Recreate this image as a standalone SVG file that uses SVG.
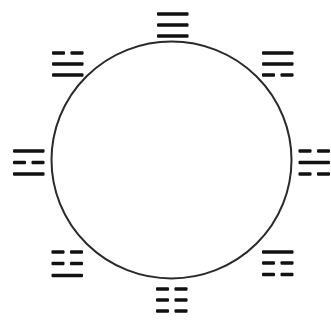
<svg xmlns="http://www.w3.org/2000/svg" xmlns:xlink="http://www.w3.org/1999/xlink" width="331" height="320" viewBox="0 0 331 320">
<style>
.bar{fill:#111}
.ring{fill:none;stroke:#2a2a2a;stroke-width:2}
</style>
<defs>
<g id="yang"><rect class="bar" x="0" y="-1.75" width="31.5" height="3.5" rx="1"/></g>
<g id="yin"><rect class="bar" x="0" y="-1.75" width="13" height="3.5" rx="1"/><rect class="bar" x="18.5" y="-1.75" width="13" height="3.5" rx="1"/></g>
</defs>
<rect width="331" height="320" fill="#fff"/>
<g id="circle"><ellipse class="ring" cx="171.5" cy="160" rx="120" ry="118.5"/></g>
<g id="tri-n" transform="translate(157,0)"><use xlink:href="#yang" y="14"/><use xlink:href="#yang" y="25"/><use xlink:href="#yang" y="36"/></g>
<g id="tri-ne" transform="translate(262,0)"><use xlink:href="#yang" y="53"/><use xlink:href="#yang" y="64"/><use xlink:href="#yin" y="75"/></g>
<g id="tri-e" transform="translate(298.5,0)"><use xlink:href="#yin" y="151"/><use xlink:href="#yang" y="162.5"/><use xlink:href="#yin" y="174"/></g>
<g id="tri-se" transform="translate(262,0)"><use xlink:href="#yang" y="252"/><use xlink:href="#yin" y="263"/><use xlink:href="#yin" y="274.5"/></g>
<g id="tri-s" transform="translate(156,0)"><use xlink:href="#yin" y="289"/><use xlink:href="#yin" y="300"/><use xlink:href="#yin" y="311"/></g>
<g id="tri-sw" transform="translate(51.5,0)"><use xlink:href="#yin" y="252"/><use xlink:href="#yin" y="263.5"/><use xlink:href="#yang" y="275.5"/></g>
<g id="tri-w" transform="translate(13,0)"><use xlink:href="#yang" y="151"/><use xlink:href="#yin" y="162.5"/><use xlink:href="#yang" y="174"/></g>
<g id="tri-nw" transform="translate(52,0)"><use xlink:href="#yin" y="53"/><use xlink:href="#yang" y="64"/><use xlink:href="#yang" y="75"/></g>
</svg>
